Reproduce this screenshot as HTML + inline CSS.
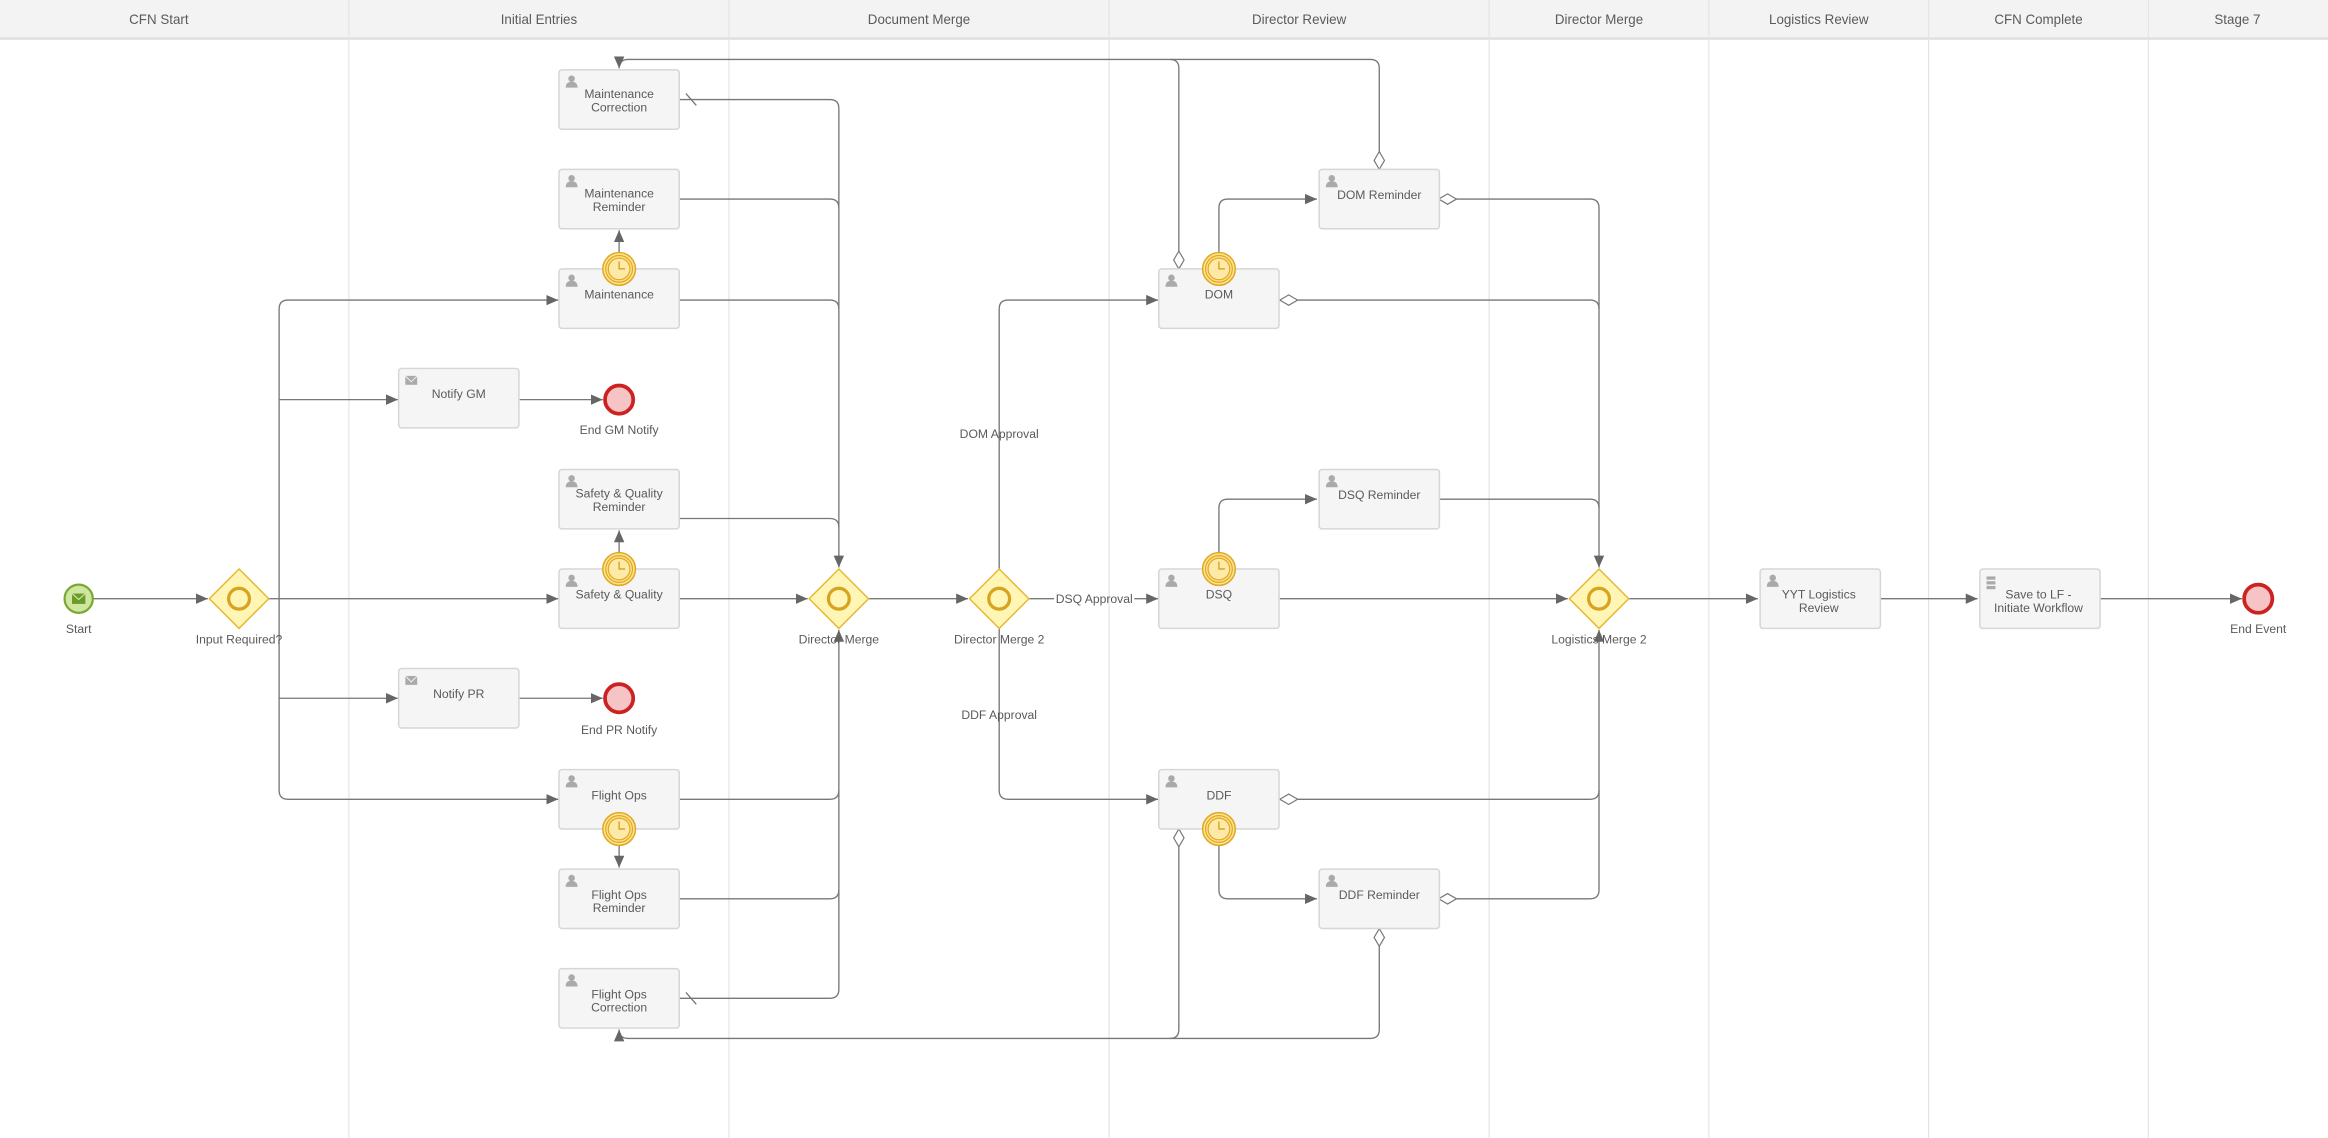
<!DOCTYPE html>
<html><head><meta charset="utf-8"><style>
html,body{margin:0;padding:0;background:#fff;}
svg{display:block;}
text{font-family:"Liberation Sans",sans-serif;fill:#5a5a5a;}
</style></head><body>
<svg width="2328" height="1138" viewBox="0 0 1568 766" preserveAspectRatio="none" xmlns="http://www.w3.org/2000/svg">
<defs>
<marker id="a" markerWidth="9" markerHeight="9" refX="8" refY="4.5" orient="auto" markerUnits="userSpaceOnUse">
<path d="M0,1 L8,4.5 L0,8 Z" fill="#666"/></marker>
<g id="p"><circle cx="0" cy="-3" r="2.2" fill="#aaa"/><path d="M-4,3 Q-4,-1 0,-1 Q4,-1 4,3 Z" fill="#aaa"/></g>
<g id="tm"><circle r="11" fill="#fde28f" stroke="#e0a820" stroke-width="1"/><circle r="9" fill="none" stroke="#e0a820" stroke-width="0.8"/><circle r="7.3" fill="#fde9a8" stroke="#e0a820" stroke-width="0.8"/><path d="M0,-5 V0 H4" stroke="#d09a10" fill="none" stroke-width="0.8"/></g>
<g id="gw"><path d="M0,-20 L20,0 L0,20 L-20,0 Z" fill="#fff5b5" stroke="#e8b830" stroke-width="1"/><circle r="7" fill="none" stroke="#d8a420" stroke-width="2.2"/></g>
<g id="dm"><path d="M0,0 L6,-3.5 L12,0 L6,3.5 Z" fill="#fff" stroke="#777" stroke-width="0.8"/></g>
</defs>
<rect width="1568" height="766" fill="#fff"/>
<rect width="1568" height="26" fill="#f3f3f3"/>
<line x1="0" y1="26" x2="1568" y2="26" stroke="#ddd" stroke-width="1.5"/>
<g stroke="#e4e4e4" stroke-width="0.8">
<line x1="235" y1="0" x2="235" y2="766"/><line x1="491" y1="0" x2="491" y2="766"/><line x1="747" y1="0" x2="747" y2="766"/><line x1="1003" y1="0" x2="1003" y2="766"/><line x1="1151" y1="0" x2="1151" y2="766"/><line x1="1299" y1="0" x2="1299" y2="766"/><line x1="1447" y1="0" x2="1447" y2="766"/>
</g>
<g font-size="9" text-anchor="middle">
<text x="107" y="16">CFN Start</text><text x="363" y="16">Initial Entries</text><text x="619" y="16">Document Merge</text><text x="875" y="16">Director Review</text><text x="1077" y="16">Director Merge</text><text x="1225" y="16">Logistics Review</text><text x="1373" y="16">CFN Complete</text><text x="1507" y="16">Stage 7</text>
</g>

<g fill="none" stroke="#777" stroke-width="0.9">
<path d="M63,403 H140" marker-end="url(#a)"/>
<path d="M181,403 H188"/>
<path d="M188,208 V532 M188,208 Q188,202 194,202 H376" marker-end="url(#a)"/>
<path d="M188,269 H268" marker-end="url(#a)"/>
<path d="M188,403 H376" marker-end="url(#a)"/>
<path d="M188,470 H268" marker-end="url(#a)"/>
<path d="M188,532 Q188,538 194,538 H376" marker-end="url(#a)"/>
<path d="M350,269 H406" marker-end="url(#a)"/>
<path d="M350,470 H406" marker-end="url(#a)"/>
<path d="M417,170 V155" marker-end="url(#a)"/>
<path d="M417,372 V357" marker-end="url(#a)"/>
<path d="M417,569 V584" marker-end="url(#a)"/>
<path d="M458,67 H559 Q565,67 565,73 V382" marker-end="url(#a)"/>
<path d="M458,134 H559 Q565,134 565,140"/>
<path d="M458,202 H559 Q565,202 565,208"/>
<path d="M458,349 H559 Q565,349 565,355"/>
<path d="M458,403 H544" marker-end="url(#a)"/>
<path d="M458,672 H559 Q565,672 565,666 V424" marker-end="url(#a)"/>
<path d="M458,605 H559 Q565,605 565,599"/>
<path d="M458,538 H559 Q565,538 565,532"/>
<path d="M462,63 L469,71 M462,668 L469,676"/>
<path d="M585,403 H652" marker-end="url(#a)"/>
<path d="M673,383 V208 Q673,202 679,202 H780" marker-end="url(#a)"/>
<path d="M693,403 H710"/>
<path d="M673,423 V532 Q673,538 679,538 H780" marker-end="url(#a)"/>
<path d="M821,170 V140 Q821,134 827,134 H887" marker-end="url(#a)"/>
<path d="M821,372 V342 Q821,336 827,336 H887" marker-end="url(#a)"/>
<path d="M821,569 V599 Q821,605 827,605 H887" marker-end="url(#a)"/>
<path d="M981,134 H1071 Q1077,134 1077,140 V382" marker-end="url(#a)"/>
<path d="M874,202 H1071 Q1077,202 1077,208"/>
<path d="M969,336 H1071 Q1077,336 1077,342"/>
<path d="M862,403 H1056" marker-end="url(#a)"/>
<path d="M874,538 H1071 Q1077,538 1077,532"/>
<path d="M981,605 H1071 Q1077,605 1077,599 V424" marker-end="url(#a)"/>
<path d="M929,102 V46 Q929,40 923,40 H423 Q417,40 417,46" marker-end="url(#a)"/>
<path d="M794,169 V46 Q794,40 788,40"/>
<path d="M929,637 V693 Q929,699 923,699 H423 Q417,699 417,693" marker-end="url(#a)"/>
<path d="M794,570 V693 Q794,699 788,699"/>
<path d="M1097,403 H1184" marker-end="url(#a)"/>
<path d="M1266,403 H1332" marker-end="url(#a)"/>
<path d="M1414,403 H1510" marker-end="url(#a)"/>
<path d="M764,403 H780" marker-end="url(#a)"/>
</g>
<use href="#dm" x="969" y="134"/><use href="#dm" x="862" y="202"/><use href="#dm" x="862" y="538"/><use href="#dm" x="969" y="605"/>
<use href="#dm" transform="translate(929,114) rotate(-90)"/><use href="#dm" transform="translate(794,181) rotate(-90)"/>
<use href="#dm" transform="translate(794,558) rotate(90)"/><use href="#dm" transform="translate(929,625) rotate(90)"/>

<g fill="#f5f5f5" stroke="#d6d6d6" stroke-width="1">
<rect x="376.5" y="47" width="81" height="40" rx="2"/>
<rect x="376.5" y="114" width="81" height="40" rx="2"/>
<rect x="376.5" y="181" width="81" height="40" rx="2"/>
<rect x="376.5" y="316" width="81" height="40" rx="2"/>
<rect x="376.5" y="383" width="81" height="40" rx="2"/>
<rect x="376.5" y="518" width="81" height="40" rx="2"/>
<rect x="376.5" y="585" width="81" height="40" rx="2"/>
<rect x="376.5" y="652" width="81" height="40" rx="2"/>
<rect x="268.5" y="248" width="81" height="40" rx="2"/>
<rect x="268.5" y="450" width="81" height="40" rx="2"/>
<rect x="780.5" y="181" width="81" height="40" rx="2"/>
<rect x="780.5" y="383" width="81" height="40" rx="2"/>
<rect x="780.5" y="518" width="81" height="40" rx="2"/>
<rect x="888.5" y="114" width="81" height="40" rx="2"/>
<rect x="888.5" y="316" width="81" height="40" rx="2"/>
<rect x="888.5" y="585" width="81" height="40" rx="2"/>
<rect x="1185.5" y="383" width="81" height="40" rx="2"/>
<rect x="1333.5" y="383" width="81" height="40" rx="2"/>
</g>
<use href="#p" x="385" y="56"/><use href="#p" x="385" y="123"/><use href="#p" x="385" y="190"/><use href="#p" x="385" y="325"/><use href="#p" x="385" y="392"/><use href="#p" x="385" y="527"/><use href="#p" x="385" y="594"/><use href="#p" x="385" y="661"/>
<use href="#p" x="789" y="190"/><use href="#p" x="789" y="392"/><use href="#p" x="789" y="527"/>
<use href="#p" x="897" y="123"/><use href="#p" x="897" y="325"/><use href="#p" x="897" y="594"/><use href="#p" x="1194" y="392"/>
<g fill="#aaa"><rect x="273" y="253" width="8" height="6"/><rect x="273" y="455" width="8" height="6"/>
<rect x="1338" y="388" width="6" height="2.2"/><rect x="1338" y="391.2" width="6" height="2.2"/><rect x="1338" y="394.4" width="6" height="2.2"/></g>
<path d="M273,253 L277,257 L281,253 M273,455 L277,459 L281,455" stroke="#eee" fill="none" stroke-width="0.7"/>

<g font-size="8.2" text-anchor="middle">
<text x="417" y="66">Maintenance</text><text x="417" y="75">Correction</text>
<text x="417" y="133">Maintenance</text><text x="417" y="142">Reminder</text>
<text x="417" y="201">Maintenance</text>
<text x="417" y="335">Safety &amp; Quality</text><text x="417" y="344">Reminder</text>
<text x="417" y="403">Safety &amp; Quality</text>
<text x="417" y="538">Flight Ops</text>
<text x="417" y="605">Flight Ops</text><text x="417" y="614">Reminder</text>
<text x="417" y="672">Flight Ops</text><text x="417" y="681">Correction</text>
<text x="309" y="268">Notify GM</text><text x="309" y="470">Notify PR</text>
<text x="821" y="201">DOM</text><text x="821" y="403">DSQ</text><text x="821" y="538">DDF</text>
<text x="929" y="134">DOM Reminder</text><text x="929" y="336">DSQ Reminder</text><text x="929" y="605">DDF Reminder</text>
<text x="1225" y="403">YYT Logistics</text><text x="1225" y="412">Review</text>
<text x="1373" y="403">Save to LF -</text><text x="1373" y="412">Initiate Workflow</text>
<text x="53" y="426">Start</text><text x="161" y="433">Input Required?</text>
<text x="417" y="292">End GM Notify</text><text x="417" y="494">End PR Notify</text>
<text x="565" y="433">Director Merge</text><text x="673" y="433">Director Merge 2</text><text x="1077" y="433">Logistics Merge 2</text>
<text x="1521" y="426">End Event</text>
<text x="673" y="295">DOM Approval</text><text x="673" y="484">DDF Approval</text>
<text x="737" y="406">DSQ Approval</text>
</g>

<use href="#tm" x="417" y="181"/><use href="#tm" x="417" y="383"/><use href="#tm" x="417" y="558"/>
<use href="#tm" x="821" y="181"/><use href="#tm" x="821" y="383"/><use href="#tm" x="821" y="558"/>
<use href="#gw" x="161" y="403"/><use href="#gw" x="565" y="403"/><use href="#gw" x="673" y="403"/><use href="#gw" x="1077" y="403"/>
<circle cx="53" cy="403" r="9.5" fill="#cfe6a0" stroke="#7aa830" stroke-width="1.5"/>
<rect x="48.5" y="399.5" width="9" height="7" fill="#6a9a28"/><path d="M48.5,399.5 L53,403.5 L57.5,399.5" stroke="#cfe6a0" fill="none" stroke-width="0.8"/>
<circle cx="417" cy="269" r="9.5" fill="#f6c4c4" stroke="#cc2222" stroke-width="2.5"/>
<circle cx="417" cy="470" r="9.5" fill="#f6c4c4" stroke="#cc2222" stroke-width="2.5"/>
<circle cx="1521" cy="403" r="9.5" fill="#f6c4c4" stroke="#cc2222" stroke-width="2.5"/>
</svg>
</body></html>
